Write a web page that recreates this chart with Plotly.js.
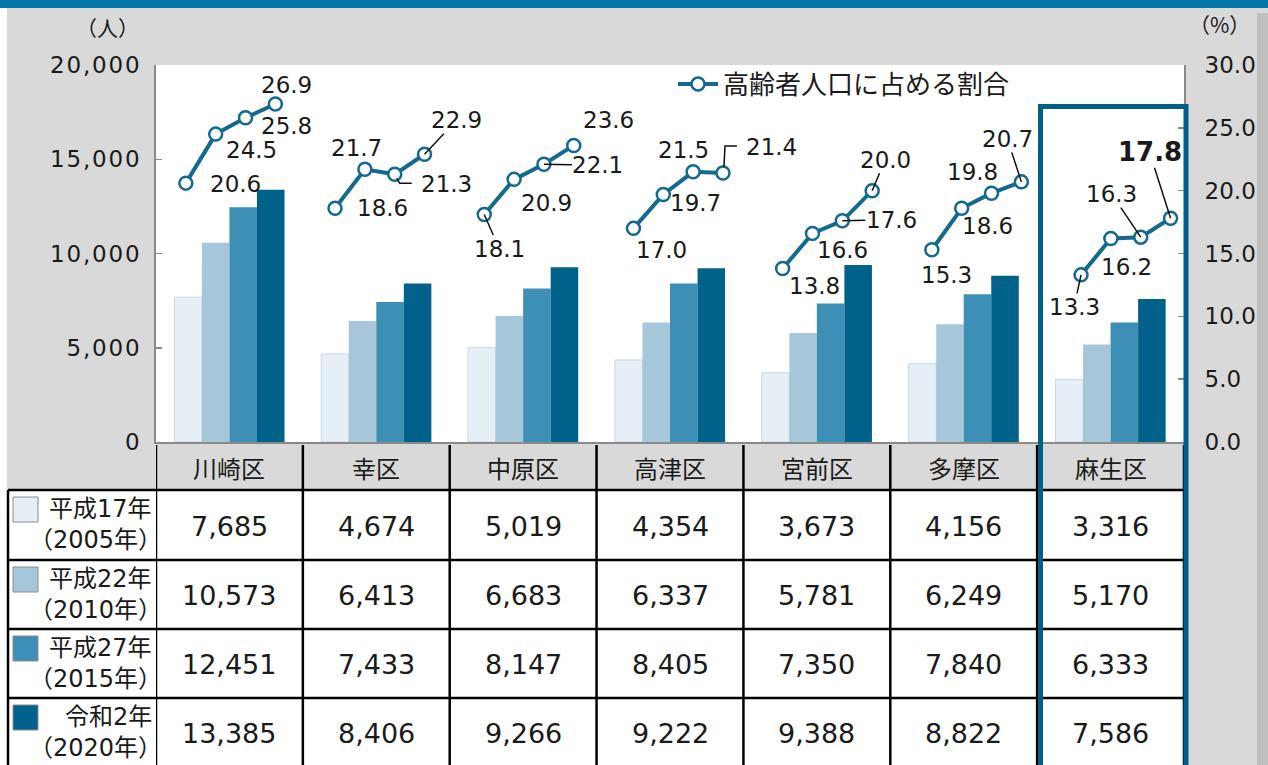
<!DOCTYPE html>
<html>
<head>
<meta charset="utf-8">
<script src="https://cdn.plot.ly/plotly-3.0.1.min.js"></script>
<style>
html,body{margin:0;padding:0;background:#d9d9d9;}
#chart{width:1268px;height:765px;}
.ytick text{letter-spacing:1.8px;}
</style>
</head>
<body>
<div id="chart"></div>
<script>
// ---------- data ----------
const districts = ['川崎区','幸区','中原区','高津区','宮前区','多摩区','麻生区'];
const yearNames = ['平成17年','平成22年','平成27年','令和2年'];
const yearSubs = ['（2005年）','（2010年）','（2015年）','（2020年）'];
const pop2005 = [7685, 4674, 5019, 4354, 3673, 4156, 3316];
const pop2010 = [10573, 6413, 6683, 6337, 5781, 6249, 5170];
const pop2015 = [12451, 7433, 8147, 8405, 7350, 7840, 6333];
const pop2020 = [13385, 8406, 9266, 9222, 9388, 8822, 7586];
const ratio2005 = [20.6, 18.6, 18.1, 17.0, 13.8, 15.3, 13.3];
const ratio2010 = [24.5, 21.7, 20.9, 19.7, 16.6, 18.6, 16.2];
const ratio2015 = [25.8, 21.3, 22.1, 21.5, 17.6, 19.8, 16.3];
const ratio2020 = [26.9, 22.9, 23.6, 21.4, 20.0, 20.7, 17.8];
const lineName = '高齢者人口に占める割合';
const leftUnit = '（人）';
const rightUnit = '（%）';

// ---------- styling / layout ----------
const pops = [pop2005, pop2010, pop2015, pop2020];
const ratios = [ratio2005, ratio2010, ratio2015, ratio2020];
const barColors = ['#e6eef6', '#a6c7da', '#3e8fb5', '#00618a'];
const lineColor = '#13698f';
const boxColor = '#005f85';
const FONT = 'DejaVu Sans, "Noto Sans CJK JP", sans-serif';
const CJK = '"Noto Sans CJK JP", sans-serif';
const TXT = '#1a1a1a';

const W = 1268, H = 765, L = 156, R = 1184, T = 65, B = 442;
const px2x = p => (p - L) / (R - L);
const py2y = p => (B - p) / (B - T);
const BARGAP = 0.25;
// the ratio line sits on its own (hidden) x axis, as in the original chart
const LINE_RANGE = [-0.5, 6.39];
const LINE_STEP = 0.2;
const hi = districts.length - 1; // highlighted district (麻生区)

// label offsets [dx, dy, leader] in pixels from each point (per year, per district)
// leader: 0 none, 1 straight line, 2 elbow line
const labelOffsets = [
  [[50,1,0],[47,0,0],[15,34,1],[28,22,0],[32,17,0],[15,25,0],[-7,32,1]],
  [[36,16,0],[-8,-21,0],[32,24,0],[32,9,0],[30,17,0],[26,18,0],[16,29,0]],
  [[41,8,0],[52,10,2],[54,1,1],[-10,-22,0],[49,-1,1],[-19,-21,0],[-29,-43,1]],
  [[11,-19,0],[32,-34,1],[35,-25,0],[49,-26,2],[13,-31,1],[-14,-43,1],[-21,-66,1]]
];
// elbow leader paths (pixels, y up) for the [year, district] pairs flagged 2
const elbowPaths = {
  '2,1': 'M2,-4 L5,-9 L17,-9',
  '3,3': 'M1,6 L2,27 L14,27'
};

const traces = [];
pops.forEach((p, j) => {
  traces.push({
    type: 'bar', x: districts.map((d, i) => i), y: p, name: yearNames[j],
    marker: {color: barColors[j], line: {color: j === 0 ? '#c8d8e8' : barColors[j], width: j === 0 ? 1 : 0}},
    showlegend: false, hoverinfo: 'skip', yaxis: 'y', xaxis: 'x'
  });
});

const linePos = (i, j) => i + (j - 1.5) * LINE_STEP;
const lx = [], ly = [];
districts.forEach((d, i) => {
  ratios.forEach((r, j) => { lx.push(linePos(i, j)); ly.push(r[i]); });
  lx.push(null); ly.push(null);
});
traces.push({
  type: 'scatter', mode: 'lines+markers', x: lx, y: ly, name: lineName,
  yaxis: 'y2', xaxis: 'x2', connectgaps: false,
  line: {color: lineColor, width: 4},
  marker: {symbol: 'circle', size: 13, color: '#ffffff', line: {color: lineColor, width: 2.5}},
  hoverinfo: 'skip'
});

const annotations = [];
const shapes = [];
const ann = o => annotations.push(Object.assign({showarrow: false, xanchor: 'center', yanchor: 'middle'}, o));
// data labels
ratios.forEach((r, j) => {
  r.forEach((v, i) => {
    const o = labelOffsets[j][i];
    const isHi = (i === hi && j === 3);
    ann({
      xref: 'x2', yref: 'y2', x: linePos(i, j), y: v,
      text: isHi ? '<b>' + v.toFixed(1) + '</b>' : v.toFixed(1),
      showarrow: true, arrowhead: 0, arrowwidth: 1.5,
      arrowcolor: o[2] === 1 ? '#111111' : 'rgba(0,0,0,0)',
      ax: o[0], ay: o[1], borderpad: 0,
      font: {family: FONT, size: isHi ? 26 : 23, color: TXT}
    });
    if (o[2] === 2) {
      shapes.push({type: 'path', xref: 'x2', yref: 'y2', xsizemode: 'pixel', ysizemode: 'pixel',
        xanchor: linePos(i, j), yanchor: v, path: elbowPaths[j + ',' + i],
        line: {color: '#111111', width: 1.5}, layer: 'above'});
    }
  });
});
// units
ann({xref: 'paper', yref: 'paper', x: px2x(107), y: py2y(27), text: leftUnit,
  font: {family: CJK, size: 21, color: TXT}});
ann({xref: 'paper', yref: 'paper', x: px2x(1219), y: py2y(24), text: rightUnit,
  font: {family: CJK, size: 21, color: TXT}});

// table: header + values
const rowTops = [490, 560, 629, 698, 767];
districts.forEach((d, i) => {
  ann({xref: 'x', yref: 'paper', x: i, y: py2y(467), text: d,
    font: {family: CJK, size: 24, color: TXT}});
  pops.forEach((p, j) => {
    ann({xref: 'x', yref: 'paper', x: i, y: py2y((rowTops[j] + rowTops[j + 1]) / 2 + 1),
      text: p[i].toLocaleString('en-US'),
      font: {family: FONT, size: 27, color: TXT}});
  });
});
yearNames.forEach((n, j) => {
  ann({xref: 'paper', yref: 'paper', x: px2x(154), xanchor: 'right', y: py2y(rowTops[j] + 19),
    text: n, font: {family: FONT, size: 24, color: TXT}});
  ann({xref: 'paper', yref: 'paper', x: px2x(164), xanchor: 'right', y: py2y(rowTops[j] + 50),
    text: yearSubs[j], font: {family: FONT, size: 24, color: TXT}});
});

// page decorations
shapes.push({type: 'rect', xref: 'paper', yref: 'paper', x0: px2x(0), x1: px2x(W), y0: py2y(0), y1: py2y(8),
  fillcolor: '#0077a6', line: {width: 0}, layer: 'below'});
shapes.push({type: 'rect', xref: 'paper', yref: 'paper', x0: px2x(0), x1: px2x(7), y0: py2y(8), y1: py2y(H),
  fillcolor: '#ffffff', line: {width: 0}, layer: 'below'});
shapes.push({type: 'rect', xref: 'paper', yref: 'paper', x0: px2x(1257), x1: px2x(W), y0: py2y(13), y1: py2y(H),
  fillcolor: '#c0c0c0', line: {width: 0}, layer: 'below'});
// table body
shapes.push({type: 'rect', xref: 'paper', yref: 'paper', x0: px2x(8), x1: px2x(R), y0: py2y(490), y1: py2y(H + 5),
  fillcolor: '#ffffff', line: {width: 0}, layer: 'below'});
rowTops.slice(0, 4).forEach(t => {
  shapes.push({type: 'line', xref: 'paper', yref: 'paper', x0: px2x(8), x1: px2x(R), y0: py2y(t), y1: py2y(t),
    line: {color: '#000000', width: 2.5}, layer: 'above'});
});
shapes.push({type: 'line', xref: 'paper', yref: 'paper', x0: px2x(8), x1: px2x(8), y0: py2y(490), y1: py2y(H + 5),
  line: {color: '#000000', width: 2.5}, layer: 'above'});
for (let i = 0; i <= districts.length; i++) {
  shapes.push({type: 'line', xref: 'x', yref: 'paper', x0: i - 0.5, x1: i - 0.5, y0: py2y(445), y1: py2y(H + 5),
    line: {color: '#000000', width: 2.5}, layer: 'above'});
}
// legend swatches
yearNames.forEach((n, j) => {
  shapes.push({type: 'rect', xref: 'paper', yref: 'paper', x0: px2x(13), x1: px2x(38),
    y0: py2y(rowTops[j] + 7), y1: py2y(rowTops[j] + 32),
    fillcolor: barColors[j], line: {color: '#8c8c8c', width: 1}, layer: 'above'});
});
// highlight box
shapes.push({type: 'rect', xref: 'paper', yref: 'paper', x0: px2x(1040.5), x1: px2x(1186), y0: py2y(106.5), y1: py2y(H + 10),
  fillcolor: 'rgba(0,0,0,0)', line: {color: boxColor, width: 5}, layer: 'above'});

const layout = {
  width: W, height: H,
  margin: {l: L, r: W - R, t: T, b: H - B, pad: 0},
  paper_bgcolor: '#d9d9d9', plot_bgcolor: '#ffffff',
  barmode: 'group', bargap: BARGAP, bargroupgap: 0,
  showlegend: true,
  legend: {orientation: 'h', x: px2x(673), xanchor: 'left', y: py2y(84), yanchor: 'middle',
    bgcolor: 'rgba(0,0,0,0)', font: {family: CJK, size: 26, color: TXT}, itemwidth: 40},
  xaxis: {range: [-0.5, districts.length - 0.5], showticklabels: false, ticks: '', showgrid: false, zeroline: false,
    showline: true, linecolor: '#8a8a8a', linewidth: 2, fixedrange: true},
  xaxis2: {range: LINE_RANGE, overlaying: 'x', visible: false, fixedrange: true},
  yaxis: {range: [0, 20000], dtick: 5000, tickformat: ',d', showgrid: false, zeroline: false,
    ticks: 'inside', ticklen: 6, tickcolor: '#8a8a8a', tickwidth: 1.5, showline: true, linecolor: '#8a8a8a', linewidth: 2,
    ticklabelstandoff: 8, tickfont: {family: FONT, size: 23, color: TXT}},
  yaxis2: {range: [0, 30], dtick: 5, tickformat: '.1f', overlaying: 'y', side: 'right', showgrid: false, zeroline: false,
    ticks: 'inside', ticklen: 6, tickcolor: '#8a8a8a', tickwidth: 1.5, showline: true, linecolor: '#8a8a8a', linewidth: 2,
    ticklabelstandoff: 14, tickfont: {family: FONT, size: 23, color: TXT}},
  annotations: annotations,
  shapes: shapes,
  font: {family: FONT, color: TXT}
};

Plotly.newPlot('chart', traces, layout, {staticPlot: true, displayModeBar: false});
</script>
</body>
</html>
